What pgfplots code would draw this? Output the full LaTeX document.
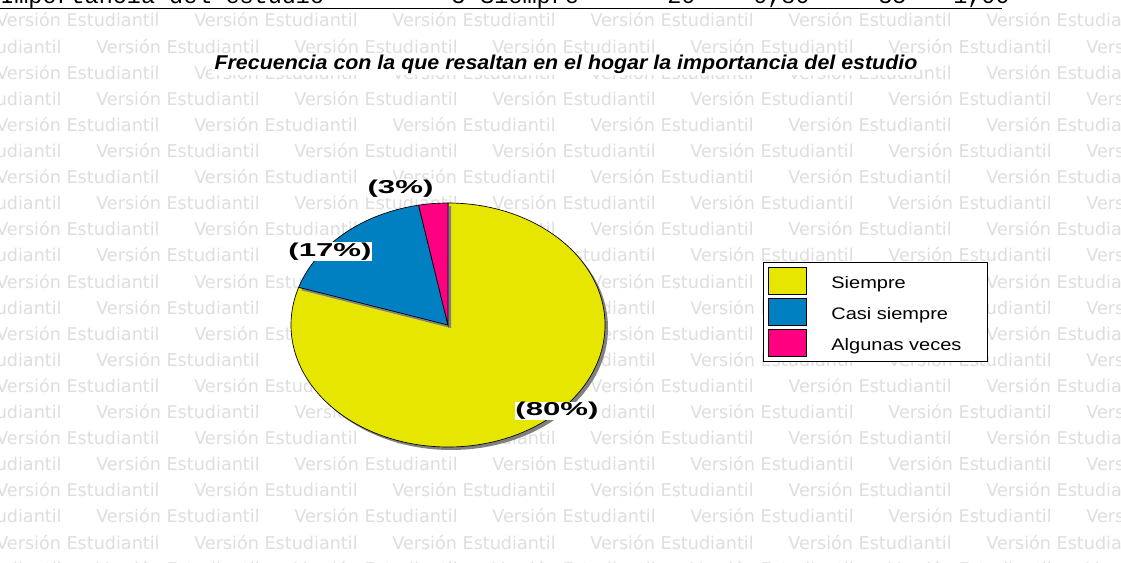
\documentclass[border=0pt]{standalone}
\usepackage{pgfplots}
\pgfplotsset{compat=1.18}
\usepackage{pgfplotstable}
\usepackage{graphicx}
\usepackage{fontspec}
\setmainfont{Liberation Sans}
\newfontfamily\wmfont{DejaVu Sans}
\newfontfamily\monofont{Liberation Mono}

\definecolor{pieY}{RGB}{230,230,0}
\definecolor{pieB}{RGB}{0,128,192}
\definecolor{pieP}{RGB}{255,0,128}
\definecolor{shad}{RGB}{128,128,128}
\definecolor{wm}{RGB}{222,222,222}

\pgfplotstableread{
label value
Siempre 80
Casi 17
Algunas 3
}\piedata

\newcommand\wmcell{\makebox[148.5pt][l]{Versión Estudiantil}}
\newcommand\wmrow{\wmcell\wmcell\wmcell\wmcell\wmcell\wmcell\wmcell\wmcell}

\newcommand\pieslice[3]{%
  \fill[shad] ([shift={(2.25pt,-2.25pt)}]axis cs:448,325) -- ++(#1:117.75pt and 91.5pt)
     arc[start angle=#1,end angle=#2,x radius=117.75pt,y radius=91.5pt] -- cycle;
  \filldraw[fill=#3,draw=black,line width=0.5pt] (axis cs:448,325) -- ++(#1:117.75pt and 91.5pt)
     arc[start angle=#1,end angle=#2,x radius=117.75pt,y radius=91.5pt] -- cycle;
}

\begin{document}
\begin{tikzpicture}
\pgfplotstablegetelem{0}{value}\of\piedata\let\vA\pgfplotsretval
\pgfplotstablegetelem{1}{value}\of\piedata\let\vB\pgfplotsretval
\pgfplotstablegetelem{2}{value}\of\piedata\let\vC\pgfplotsretval
\pgfmathsetmacro\aA{90}
\pgfmathsetmacro\aB{90-3.6*\vA}
\pgfmathsetmacro\aC{\aB-3.6*\vB}
\pgfmathsetmacro\aD{\aC-3.6*\vC}
\begin{axis}[name=ax, scale only axis, width=840.75pt, height=422.25pt,
  xmin=0, xmax=1121, ymin=0, ymax=563, y dir=reverse, hide axis,
  legend style={at={(0.6807,0.5346)}, anchor=north west, draw=black, line width=0.9pt,
    fill=white, inner xsep=3pt, inner ysep=3.5pt, row sep=2.5pt, column sep=16.5pt,
    font=\fontsize{12.5}{14}\selectfont, cells={anchor=west}},
  legend image code/.code={\draw[#1,line width=0.8pt] (0pt,-8.5pt) rectangle (28.5pt,11.5pt);},
]
\fill[white] (axis cs:0,0) rectangle (axis cs:1121,563);
% watermark
\begin{scope}[every node/.style={anchor=base west, inner sep=0pt, text=wm, font=\wmfont\fontsize{13.2}{14}\selectfont}]
\node at (axis cs:-4,27) {\wmrow};
\node at (axis cs:-102,53.1) {\wmrow};
\node at (axis cs:-4,79.2) {\wmrow};
\node at (axis cs:-102,105.3) {\wmrow};
\node at (axis cs:-4,131.4) {\wmrow};
\node at (axis cs:-102,157.5) {\wmrow};
\node at (axis cs:-4,183.6) {\wmrow};
\node at (axis cs:-102,209.7) {\wmrow};
\node at (axis cs:-4,235.8) {\wmrow};
\node at (axis cs:-102,261.9) {\wmrow};
\node at (axis cs:-4,288) {\wmrow};
\node at (axis cs:-102,314.1) {\wmrow};
\node at (axis cs:-4,340.2) {\wmrow};
\node at (axis cs:-102,366.3) {\wmrow};
\node at (axis cs:-4,392.4) {\wmrow};
\node at (axis cs:-102,418.5) {\wmrow};
\node at (axis cs:-4,444.6) {\wmrow};
\node at (axis cs:-102,470.7) {\wmrow};
\node at (axis cs:-4,496.8) {\wmrow};
\node at (axis cs:-102,522.9) {\wmrow};
\node at (axis cs:-4,549) {\wmrow};
\node at (axis cs:-102,575.1) {\wmrow};
\end{scope}
% top table line (cut off)
\begin{scope}[every node/.style={anchor=base west, inner sep=0pt, font=\monofont\fontsize{17.6}{18}\selectfont}]
\node at (axis cs:0,4) {Importancia del estudio};
\node at (axis cs:451,4) {3};
\node at (axis cs:480,4) {Siempre};
\node at (axis cs:667,4) {20};
\node at (axis cs:753,4) {0,80};
\node at (axis cs:878,4) {35};
\node at (axis cs:953,4) {1,00};
\end{scope}
\draw[line width=0.9pt] (axis cs:0,8.5) -- (axis cs:1002,8.5);
% title
\node[fill=white, inner xsep=2pt, inner ysep=1pt, font=\bfseries\itshape\fontsize{15}{16}\selectfont]
  at (axis cs:566,64) {\scalebox{1.07}[1]{Frecuencia con la que resaltan en el hogar la importancia del estudio}};
% pie
\pieslice{\aA}{\aB}{pieY}
\pieslice{\aB}{\aC}{pieB}
\pieslice{\aC}{\aD}{pieP}
% labels
\begin{scope}[every node/.style={fill=white, inner sep=0.5pt, font=\bfseries\fontsize{14}{15}\selectfont}]
\node at (axis cs:400.5,188.5) {\scalebox{1.67}[1]{(3\%)}};
\node at (axis cs:330,251.5) {\scalebox{1.67}[1]{(17\%)}};
\node at (axis cs:557,411) {\scalebox{1.67}[1]{(80\%)}};
\end{scope}
\addlegendimage{fill=pieY, draw=black}
\addlegendentry{\scalebox{1.2}[1]{Siempre}}
\addlegendimage{fill=pieB, draw=black}
\addlegendentry{\scalebox{1.2}[1]{Casi siempre}}
\addlegendimage{fill=pieP, draw=black}
\addlegendentry{\scalebox{1.2}[1]{Algunas veces}\kern14.3pt\relax}
\end{axis}
\pgfresetboundingbox
\useasboundingbox (ax.south west) rectangle (ax.north east);
\end{tikzpicture}
\end{document}
